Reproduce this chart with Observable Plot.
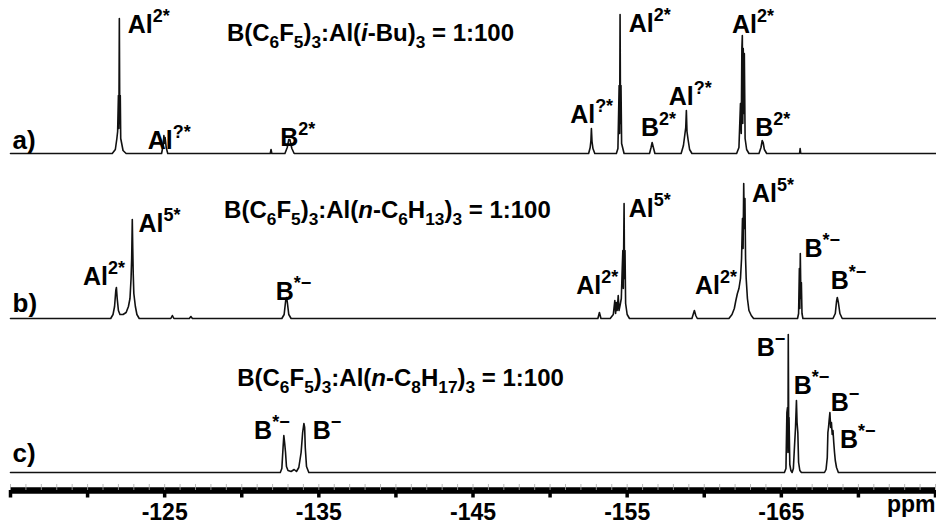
<!DOCTYPE html>
<html><head><meta charset="utf-8">
<script src="https://cdn.jsdelivr.net/npm/d3@7"></script>
<script src="https://cdn.jsdelivr.net/npm/@observablehq/plot@0.6"></script>
<style>body{margin:0;background:#fff}</style>
</head><body><div id="chart"></div>
<script>
// ---- Spectrum a) B(C6F5)3:Al(i-Bu)3 ----
const ppmA = [-115,-121.6,-121.8,-121.9,-121.95,-122.0,-122.03,-122.06,-122.09,-122.12,-122.15,-122.3,-122.5,
  -124.8,-124.9,-124.95,-125.0,-125.03,-125.1,-125.2,-131.85,-131.9,-131.95,
  -132.8,-132.95,-133.05,-133.12,-133.25,-133.4,
  -152.5,-152.6,-152.65,-152.68,-152.72,-152.78,-152.9,
  -154.3,-154.4,-154.48,-154.51,-154.54,-154.57,-154.6,-154.64,-154.8,
  -156.45,-156.55,-156.62,-156.7,-156.8,
  -158.5,-158.65,-158.75,-158.8,-158.84,-158.88,-158.95,-159.05,-159.2,
  -162.1,-162.25,-162.35,-162.4,-162.44,-162.47,-162.5,-162.53,-162.57,-162.6,-162.65,-162.75,-162.9,
  -163.55,-163.68,-163.76,-163.82,-163.9,-164.05,
  -166.18,-166.22,-166.26,-175];
const intA = [0,0,4,15,22,58,25,135,30,58,15,3,0,
  0,8,18,10,16,6,0,0,4,0,
  0,6,14,14,5,0,
  0,6,13,25,12,5,0,
  0,5,68,20,139,30,68,10,0,
  0,6,11,6,0,
  0,8,20,26,43,22,14,4,0,
  0,6,50,20,105,118,30,105,40,100,15,4,0,
  0,6,13,11,4,0,
  0,5,0,0];

// ---- Spectrum b) B(C6F5)3:Al(n-C6H13)3 ----
const ppmB = [-115,-121.5,-121.65,-121.75,-121.83,-121.87,-121.92,-122.0,-122.1,-122.3,-122.5,-122.65,-122.75,-122.82,-122.86,-122.9,-122.93,-122.96,-123.0,-123.1,-123.2,-123.35,
  -125.4,-125.5,-125.6,-126.6,-126.7,-126.8,
  -132.6,-132.75,-132.85,-132.9,-132.95,-133.05,-133.2,
  -153.1,-153.2,-153.3,
  -153.9,-154.1,-154.2,-154.25,-154.3,-154.35,-154.42,-154.47,-154.55,-154.62,-154.68,-154.72,-154.75,-154.8,-154.83,-154.86,-154.9,-155.0,-155.15,
  -159.2,-159.3,-159.36,-159.45,-159.55,
  -161.6,-161.8,-161.95,-162.05,-162.15,-162.25,-162.35,-162.42,-162.48,-162.52,-162.56,-162.6,-162.64,-162.68,-162.72,-162.8,-162.9,-163.05,-163.2,
  -166.05,-166.12,-166.17,-166.2,-166.23,-166.27,-166.3,-166.34,-166.4,
  -168.35,-168.5,-168.58,-168.63,-168.7,-168.8,-168.95,-175];
const intB = [0,0,4,12,28,31,20,8,4,4,6,12,20,40,60,99,70,45,25,12,4,0,
  0,3,0,0,2,0,
  0,4,18,21,17,4,0,
  0,6,0,
  0,4,18,5,16,8,23,8,14,20,50,68,30,115,40,68,15,4,0,
  0,5,8,3,0,
  0,4,10,18,25,30,40,60,100,70,135,90,120,60,40,20,8,3,0,
  0,5,50,10,65,20,36,5,0,
  0,5,17,21,16,5,0,0];

// ---- Spectrum c) B(C6F5)3:Al(n-C8H17)3 ----
const ppmC = [-115,-132.5,-132.6,-132.68,-132.73,-132.78,-132.84,-132.9,-133.0,-133.2,-133.4,-133.55,-133.7,-133.85,-133.95,-134.03,-134.08,-134.12,-134.2,-134.35,
  -165.2,-165.3,-165.36,-165.4,-165.43,-165.45,-165.48,-165.5,-165.55,-165.62,-165.7,
  -165.78,-165.85,-165.92,-165.98,-166.02,-166.07,-166.12,-166.2,-166.3,
  -167.8,-167.9,-167.98,-168.02,-168.06,-168.1,-168.15,-168.2,-168.25,-168.3,-168.35,-168.4,-168.45,-168.5,-168.58,-168.7,-175];
const intC = [0,0,4,25,37,30,20,6,2,1,3,1,5,20,40,49,45,25,6,0,
  0,4,60,65,20,138,40,55,8,2,0,
  4,25,45,72,50,40,10,2,0,
  0,3,15,40,45,52,60,45,50,38,42,30,20,12,5,0,0];

// ---- Text ----
const panelIds = ["a", "b", "c"];
const panelLetters = ["a)", "b)", "c)"];
const panelLetterLevel = [13, 15, 19];
const titleTexts = [
  "B(C<sub>6</sub>F<sub>5</sub>)<sub>3</sub>:Al(<i>i</i>-Bu)<sub>3</sub> = 1:100",
  "B(C<sub>6</sub>F<sub>5</sub>)<sub>3</sub>:Al(<i>n</i>-C<sub>6</sub>H<sub>13</sub>)<sub>3</sub> = 1:100",
  "B(C<sub>6</sub>F<sub>5</sub>)<sub>3</sub>:Al(<i>n</i>-C<sub>8</sub>H<sub>17</sub>)<sub>3</sub> = 1:100"
];
const titlePpm = [-138.35, -139.45, -140.3];
const titleLevel = [120, 108, 94];

const labelPanel = ["a","a","a","a","a","a","a","a","a", "b","b","b","b","b","b","b","b","b", "c","c","c","c","c","c"];
const labelTexts = [
  "Al<sup>2*</sup>","Al<sup>?*</sup>","B<sup>2*</sup>","Al<sup>?*</sup>","Al<sup>2*</sup>","B<sup>2*</sup>","Al<sup>?*</sup>","Al<sup>2*</sup>","B<sup>2*</sup>",
  "Al<sup>2*</sup>","Al<sup>5*</sup>","B<sup>*−</sup>","Al<sup>2*</sup>","Al<sup>5*</sup>","Al<sup>2*</sup>","Al<sup>5*</sup>","B<sup>*−</sup>","B<sup>*−</sup>",
  "B<sup>*−</sup>","B<sup>−</sup>","B<sup>−</sup>","B<sup>*−</sup>","B<sup>−</sup>","B<sup>*−</sup>"
];
const labelPpm = [-122.6,-123.9,-132.5,-151.3,-155.1,-155.9,-157.7,-161.8,-163.3,
  -119.7,-123.3,-132.2,-151.7,-155.1,-159.4,-163.1,-166.5,-168.2,
  -130.8,-134.6,-163.4,-165.8,-168.2,-168.8];
const labelLevel = [129,13,16,39,130,26,57,129,26,
  42,95,27,33,110,33,125,70,38,
  42,42,125,87,70,33];

const majorTicks = d3.range(-115, -175.5, -5);
const minorTicks = d3.range(-115, -175.5, -1);
const labeledTicks = [-125, -135, -145, -155, -165];

// stacking of the three spectra (vertical offset of each baseline, in intensity units)
const stackOffset = {a: 337, b: 172, c: 18};

const rows = [];
[["a", ppmA, intA], ["b", ppmB, intB], ["c", ppmC, intC]].forEach(([t, xs, ys]) =>
  xs.forEach((x, i) => rows.push({trace: t, ppm: x, v: ys[i]})));
const titles = titleTexts.map((s, i) => ({trace: panelIds[i], text: s, ppm: titlePpm[i], level: titleLevel[i]}));
const labels = labelTexts.map((s, i) => ({trace: labelPanel[i], text: s, ppm: labelPpm[i], level: labelLevel[i]}));
const letters = panelLetters.map((s, i) => ({trace: panelIds[i], text: s, level: panelLetterLevel[i]}));

const yOf = d => d.level + stackOffset[d.trace];

const plot = Plot.plot({
  width: 936, height: 526,
  marginLeft: 10, marginRight: 1, marginTop: 0, marginBottom: 36,
  x: {domain: [-115, -175]},
  y: {domain: [0, 490], axis: null},
  style: {fontFamily: "'Liberation Sans', Arial, sans-serif", fontWeight: "bold", background: "#fff", color: "#000"},
  marks: [
    Plot.line(rows, {x: "ppm", y: d => d.v + stackOffset[d.trace], z: "trace", stroke: "#111", strokeWidth: 1.6}),
    Plot.ruleY([0], {stroke: "#000", strokeWidth: 6.5}),
    Plot.axisX(minorTicks, {tickSize: -6, tickFormat: () => "", stroke: "#aaa", strokeWidth: 0.8, label: null}),
    Plot.axisX(majorTicks, {tickSize: 7.5, tickFormat: () => "", stroke: "#000", strokeWidth: 3.5, label: null}),
    Plot.axisX(labeledTicks, {tickSize: 0, tickPadding: 13, fontSize: 23, tickFormat: d => String(d), label: null}),
    Plot.text(["ppm"], {frameAnchor: "bottom-right", dy: 21, fontSize: 23, textAnchor: "end", fill: "#000"}),
    Plot.text(titles, {x: "ppm", y: yOf, text: "text", fontSize: 24, textAnchor: "middle", fill: "#000"}),
    Plot.text(labels, {x: "ppm", y: yOf, text: "text", fontSize: 25, textAnchor: "start", fill: "#000"}),
    Plot.text(letters, {x: () => -115, y: yOf, text: "text", fontSize: 26, textAnchor: "start", dx: 2, fill: "#000"})
  ]
});
document.getElementById("chart").appendChild(plot);

// turn simple <sub>/<sup>/<i> markup into real SVG tspans
function richify(svg) {
  const NS = "http://www.w3.org/2000/svg";
  svg.querySelectorAll("text").forEach(t => {
    const s = t.textContent;
    if (!/<(sub|sup|i)>/.test(s)) return;
    const fs = parseFloat(getComputedStyle(t).fontSize) || 20;
    t.textContent = "";
    const re = /<(sub|sup|i)>(.*?)<\/\1>|([^<]+)/g;
    let m, shift = 0;
    while ((m = re.exec(s))) {
      const ts = document.createElementNS(NS, "tspan");
      let target = 0, txt;
      if (m[3] !== undefined) txt = m[3];
      else {
        txt = m[2];
        if (m[1] === "sub") { target = 0.28 * fs; ts.setAttribute("font-size", 0.72 * fs); }
        else if (m[1] === "sup") { target = -0.42 * fs; ts.setAttribute("font-size", 0.72 * fs); }
        else ts.setAttribute("font-style", "italic");
      }
      if (target !== shift) { ts.setAttribute("dy", target - shift); shift = target; }
      ts.textContent = txt;
      t.appendChild(ts);
    }
  });
}
richify(plot);
</script>
</body></html>
